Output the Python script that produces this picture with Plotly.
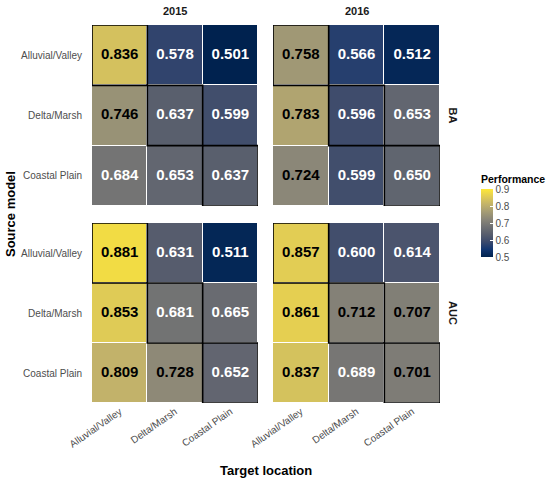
import plotly.graph_objects as go

# Categories
locations = ['Alluvial/Valley', 'Delta/Marsh', 'Coastal Plain']
years = ['2015', '2016']
metrics = ['BA', 'AUC']

# Performance values, rows = source model, columns = target location
ba_2015 = [[0.836, 0.578, 0.501],
           [0.746, 0.637, 0.599],
           [0.684, 0.653, 0.637]]
ba_2016 = [[0.758, 0.566, 0.512],
           [0.783, 0.596, 0.653],
           [0.724, 0.599, 0.650]]
auc_2015 = [[0.881, 0.631, 0.511],
            [0.853, 0.681, 0.665],
            [0.809, 0.728, 0.652]]
auc_2016 = [[0.857, 0.600, 0.614],
            [0.861, 0.712, 0.707],
            [0.837, 0.689, 0.701]]
colorbar_ticks = [0.5, 0.6, 0.7, 0.8, 0.9]

panels = {('BA', '2015'): ba_2015, ('BA', '2016'): ba_2016,
          ('AUC', '2015'): auc_2015, ('AUC', '2016'): auc_2016}

W, H = 550, 485
FONT = 'Liberation Sans, Arial, sans-serif'


def px(x):
    return x / W


def py(y):
    return 1 - y / H


# panel extents in pixels
x_px = {'2015': (92, 258), '2016': (273, 440)}
y_px = {'BA': (25, 206), 'AUC': (223, 403)}

y_order = list(reversed(locations))  # Alluvial/Valley on top

fig = go.Figure()
shapes = []
layout = {}
n = 0
for metric in metrics:
    for year in years:
        n += 1
        sfx = '' if n == 1 else str(n)
        z = panels[(metric, year)]
        fig.add_trace(go.Heatmap(
            z=z, x=locations, y=locations, coloraxis='coloraxis',
            xgap=1, ygap=1, xaxis='x' + sfx, yaxis='y' + sfx,
            hovertemplate='%{y} → %{x}: %{z:.3f}<extra></extra>'))
        tx, ty, tt, tc = [], [], [], []
        for i, src in enumerate(locations):
            for j, tgt in enumerate(locations):
                tx.append(tgt)
                ty.append(src)
                tt.append('%.3f' % z[i][j])
                tc.append('black' if z[i][j] >= 0.7 else 'white')
        fig.add_trace(go.Scatter(
            x=tx, y=ty, text=tt, mode='text', showlegend=False,
            hoverinfo='skip', xaxis='x' + sfx, yaxis='y' + sfx,
            textfont=dict(family=FONT, size=15, color=tc, weight='bold')))
        # outline the diagonal (same source and target)
        for loc in locations:
            xi = locations.index(loc)
            yi = y_order.index(loc)
            shapes.append(dict(type='rect', xref='x' + sfx, yref='y' + sfx,
                               x0=xi - 0.5, x1=xi + 0.5, y0=yi - 0.5, y1=yi + 0.5,
                               line=dict(color='black', width=1.6)))
        x0, x1 = x_px[year]
        y0, y1 = y_px[metric]
        layout['xaxis' + sfx] = dict(
            domain=[px(x0), px(x1)], type='category', categoryarray=locations,
            range=[-0.5, 2.5], showgrid=False, zeroline=False, showline=False,
            anchor='y' + sfx, showticklabels=(metric == 'AUC'), tickangle=-35,
            automargin=False, ticks='',
            tickfont=dict(family=FONT, size=10, color='#4d4d4d'))
        layout['yaxis' + sfx] = dict(
            domain=[py(y1), py(y0)], type='category', categoryarray=y_order,
            range=[-0.5, 2.5], showgrid=False, zeroline=False, showline=False,
            anchor='x' + sfx, showticklabels=(year == '2015'), ticks='',
            automargin=False, ticklabelstandoff=9,
            tickfont=dict(family=FONT, size=10, color='#4d4d4d'))

annotations = []
for year in years:
    x0, x1 = x_px[year]
    annotations.append(dict(text='<b>' + year + '</b>', x=px((x0 + x1) / 2), y=py(11),
                            xanchor='center', yanchor='middle',
                            xref='paper', yref='paper', showarrow=False,
                            font=dict(family=FONT, size=11, color='#1a1a1a')))
for metric in metrics:
    y0, y1 = y_px[metric]
    annotations.append(dict(text='<b>' + metric + '</b>', x=px(453), y=py((y0 + y1) / 2),
                            xanchor='center', yanchor='middle',
                            xref='paper', yref='paper', showarrow=False, textangle=90,
                            font=dict(family=FONT, size=11, color='#1a1a1a')))
annotations.append(dict(text='<b>Source model</b>', x=px(10), y=py(214),
                        xanchor='center', yanchor='middle',
                        xref='paper', yref='paper', showarrow=False, textangle=-90,
                        font=dict(family=FONT, size=13, color='black')))
annotations.append(dict(text='<b>Target location</b>', x=px(266), y=py(470),
                        xanchor='center', yanchor='middle',
                        xref='paper', yref='paper', showarrow=False,
                        font=dict(family=FONT, size=13, color='black')))
annotations.append(dict(text='<b>Performance</b>', x=px(479), y=py(179),
                        xref='paper', yref='paper', showarrow=False,
                        xanchor='left', yanchor='middle',
                        font=dict(family=FONT, size=10.5, color='black')))

fig.update_layout(
    width=W, height=H, margin=dict(l=0, r=0, t=0, b=0, autoexpand=False),
    paper_bgcolor='white', plot_bgcolor='white', showlegend=False,
    font=dict(family=FONT),
    coloraxis=dict(
        colorscale='Cividis', cmin=0.5, cmax=0.9,
        colorbar=dict(
            x=px(481), xanchor='left', xpad=0, ypad=0,
            y=py(223), yanchor='middle',
            len=68, lenmode='pixels', thickness=12, outlinewidth=0,
            tickvals=colorbar_ticks, ticks='inside', ticklen=3,
            tickcolor='white', tickfont=dict(family=FONT, size=10, color='#4d4d4d'))),
    shapes=shapes, annotations=annotations, **layout)

# drop the browser's default 8px page margin so the figure fills the window
fig.write_html('out.html', config={'displayModeBar': False},
               post_script="document.body.style.margin = '0';")
